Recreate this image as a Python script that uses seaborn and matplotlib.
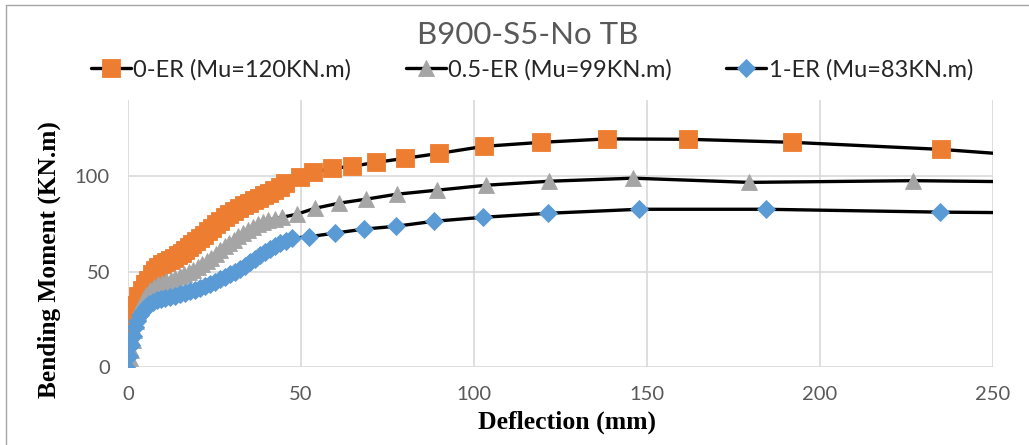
import pandas as pd
import seaborn as sns
import matplotlib.pyplot as plt
from matplotlib.lines import Line2D

# values (dense at the start, like the test record)
defl_0er = [-1.7, -1.2, -0.6, 0, 0.6, 1.2, 2, 3, 4, 5, 5.8, 6.8, 7.8, 8.8, 9.8, 11, 12.1, 13.3,
            14.5, 15.5, 16.5, 17.5, 18.5, 19.6, 20.8, 22, 23.1, 24.2, 25.4, 26.7, 28, 29.3, 30.6,
            32, 33.5, 35, 36.4, 37.8, 39.3, 40.8, 42.2, 43.8, 45.4, 49.7, 53.5, 59, 64.7, 71.7,
            80, 89.9, 102.9, 119.4, 138.4, 161.8, 192, 235, 262]
moment_0er = [0, 6, 11.5, 17, 22, 27, 32.5, 37, 40.3, 43.5, 45.5, 48.5, 50.8, 52.5, 53.9, 55, 56,
              57.3, 58.6, 60, 61.3, 62.8, 64.4, 66, 67.5, 69.3, 71.2, 73, 74.9, 76.7, 78.5, 80.1,
              81.7, 83.2, 84.8, 86.1, 87.4, 88.7, 90, 91.3, 92.7, 94.5, 96.3, 99.5, 102, 104.2,
              105.2, 107.3, 109.4, 112, 115.7, 117.8, 119.6, 119.4, 117.8, 114.1, 110.5]

defl_05er = [0, 0.5, 0.9, 1.3, 1.7, 2.3, 2.9, 3.6, 4.3, 5.3, 6.4, 7.5, 8.7, 9.8, 11, 12.3, 13.6,
             14.9, 16.2, 17.5, 18.8, 20.1, 21.4, 22.7, 24, 25.3, 26.6, 27.9, 29.2, 30.5, 31.8,
             33.2, 34.7, 36.1, 37.6, 39, 40.5, 42.5, 44.5, 48.8, 54, 61, 68.8, 77.7, 89.3, 103.5,
             121.7, 146, 179.5, 227, 262]
moment_05er = [0, 4.5, 8.9, 14, 19.4, 24, 28.8, 32, 35.1, 38, 40.3, 42, 43.5, 44.3, 45, 45.8,
               46.6, 47.6, 48.7, 49.7, 50.8, 52.3, 53.9, 55.5, 57.1, 59.3, 61.5, 63.2, 65, 66.8,
               68.5, 70.3, 72, 73.5, 75, 76, 77, 77.8, 78.5, 80.1, 83.2, 85.9, 88, 90.6, 92.7,
               95.3, 97.4, 99, 96.8, 97.7, 97]

defl_1er = [-0.5, 0.2, 0.9, 1.4, 2, 2.7, 3.5, 4.3, 5.2, 6.2, 7.2, 8.3, 9.5, 10.8, 12.1, 13.5, 15,
            16.4, 17.9, 19.3, 20.8, 22.2, 23.7, 25.1, 26.6, 28, 29.5, 30.9, 32.4, 33.8, 35.3,
            36.7, 38.2, 39.6, 41, 42.5, 43.9, 45.6, 47.4, 52.3, 59.8, 68.2, 77.5, 88.4, 102.6,
            121.4, 147.7, 184.4, 234.7, 262]
moment_1er = [0, 6, 11.5, 16.5, 21, 24.3, 27.2, 29.5, 31.4, 32.8, 34, 34.9, 35.6, 36.1, 36.6,
              37.4, 38.2, 39, 39.8, 40.6, 41.4, 42.4, 43.5, 44.7, 46, 47.3, 48.6, 50, 51.5, 53.2,
              55, 56.8, 58.5, 60.3, 62, 63.5, 65, 66.3, 67.5, 68.3, 70.2, 72.3, 73.8, 76.4, 78.5,
              80.6, 82.7, 82.7, 81.2, 80.8]

labels = ['0-ER (Mu=120KN.m)', '0.5-ER (Mu=99KN.m)', '1-ER (Mu=83KN.m)']
colors = ['#ED7D31', '#A5A5A5', '#5B9BD5']
markers = ['s', '^', 'D']
msizes = [12.5, 12, 8.7]

series = [(defl_0er, moment_0er), (defl_05er, moment_05er), (defl_1er, moment_1er)]

sns.set_theme(style='whitegrid')
plt.rcParams['font.family'] = ['Lato', 'DejaVu Sans']

fig = plt.figure(figsize=(10.29, 4.45), dpi=100)
ax = fig.add_axes([0.1244, 0.1753, 0.8406, 0.6000])

for (xs, ys), lab, c, m, ms in zip(series, labels, colors, markers, msizes):
    df = pd.DataFrame({'Deflection': xs, 'Moment': ys})
    sns.lineplot(data=df, x='Deflection', y='Moment', sort=False, estimator=None,
                 color='black', lw=2.4, marker=m, markersize=ms,
                 markerfacecolor=c, markeredgecolor=c, markeredgewidth=0.6,
                 label=lab, ax=ax)

ax.set_xlim(0, 250)
ax.set_ylim(0, 140)
ax.set_xticks([0, 50, 100, 150, 200, 250])
ax.set_yticks([0, 50, 100])
ax.grid(True, color='#d9d9d9', lw=1.2)
for s in ax.spines.values():
    s.set_visible(False)
ax.tick_params(length=0, labelsize=14.5, labelcolor='#595959')
ax.tick_params(axis='x', pad=14)
ax.tick_params(axis='y', pad=13)

ax.set_xlabel('Deflection (mm)', family='Liberation Serif', weight='bold',
              fontsize=18.5, color='black')
ax.set_ylabel('Bending Moment (KN.m)', family='Liberation Serif', weight='bold',
              fontsize=18.3, color='black')
ax.xaxis.set_label_coords(0.507, -0.165)
ax.yaxis.set_label_coords(-0.078, 0.404)

handles, labs = ax.get_legend_handles_labels()
ax.get_legend().remove()
fig.legend(handles, labs, loc='center', bbox_to_anchor=(0.517, 0.843), ncol=3,
           frameon=False, fontsize=17, handlelength=1.7, handletextpad=0.1,
           columnspacing=2.3, labelcolor='#262626')

fig.text(0.513, 0.921, 'B900-S5-No TB', ha='center', va='center',
         fontsize=22.5, color='#595959')

# outer chart border (left and top edges visible in the reference)
fig.add_artist(Line2D([6 / 1029, 6 / 1029], [0, 1 - 5 / 445], transform=fig.transFigure,
                      color='#a6a6a6', lw=1))
fig.add_artist(Line2D([6 / 1029, 1], [1 - 5 / 445, 1 - 5 / 445], transform=fig.transFigure,
                      color='#a6a6a6', lw=1))

fig.savefig('out.png', dpi=100)
